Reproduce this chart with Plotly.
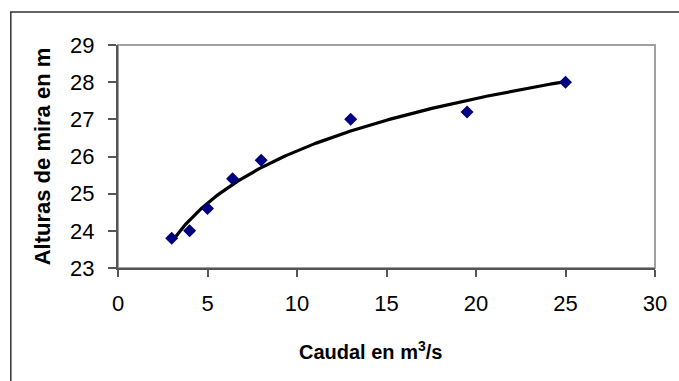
import numpy as np
import plotly.graph_objects as go

caudal = [3, 4, 5, 6.4, 8, 13, 19.5, 25]
alturas = [23.8, 24.0, 24.6, 25.4, 25.9, 27.0, 27.2, 28.0]
x_ticks = [0, 5, 10, 15, 20, 25, 30]
y_ticks = [23, 24, 25, 26, 27, 28, 29]

# logarithmic trendline fitted to data
a, b = np.polyfit(np.log(caudal), alturas, 1)
xf = np.linspace(min(caudal), max(caudal), 200)
yf = a * np.log(xf) + b

FONT = "Liberation Sans, Arial, sans-serif"

fig = go.Figure()
fig.add_trace(go.Scatter(x=xf, y=yf, mode="lines",
                         line=dict(color="black", width=3.2), hoverinfo="skip"))
fig.add_trace(go.Scatter(x=caudal, y=alturas, mode="markers",
                         marker=dict(symbol="diamond", color="#000080", size=10)))

fig.update_layout(
    width=679, height=381,
    margin=dict(l=118, r=20, t=45, b=113),
    paper_bgcolor="white", plot_bgcolor="white",
    showlegend=False,
    font=dict(family=FONT, size=22, color="black"),
    shapes=[
        dict(type="rect", xref="paper", yref="paper", x0=0, x1=1, y0=0, y1=1,
             line=dict(color="#a0a0a0", width=2), layer="below"),
        dict(type="rect", xref="paper", yref="paper",
             x0=-108/541, x1=1.2, y0=-1.0, y1=1 + 33/223,
             line=dict(color="#333333", width=1.5)),
    ],
    annotations=[
        dict(text="<b>Caudal en m<sup>3</sup>/s</b>", xref="paper", yref="paper",
             x=0.471, y=-0.368, xanchor="center", yanchor="middle",
             showarrow=False, font=dict(size=20)),
    ],
)
fig.update_xaxes(
    range=[0, 30], tickvals=x_ticks, ticks="outside", ticklen=7, tickwidth=2,
    tickcolor="#555555", showline=True, linecolor="#555555", linewidth=2,
    showgrid=False, zeroline=False, tickfont=dict(size=22),
    ticklabelstandoff=8,
)
fig.update_yaxes(
    range=[23, 29], tickvals=y_ticks, ticks="outside", ticklen=8, tickwidth=2,
    tickcolor="#555555", showline=True, linecolor="#555555", linewidth=2,
    showgrid=False, zeroline=False, tickfont=dict(size=22),
    ticklabelstandoff=9,
    title=dict(text="<b>Alturas de mira en m</b>", font=dict(size=22), standoff=13),
)

fig.write_html("out.html")
